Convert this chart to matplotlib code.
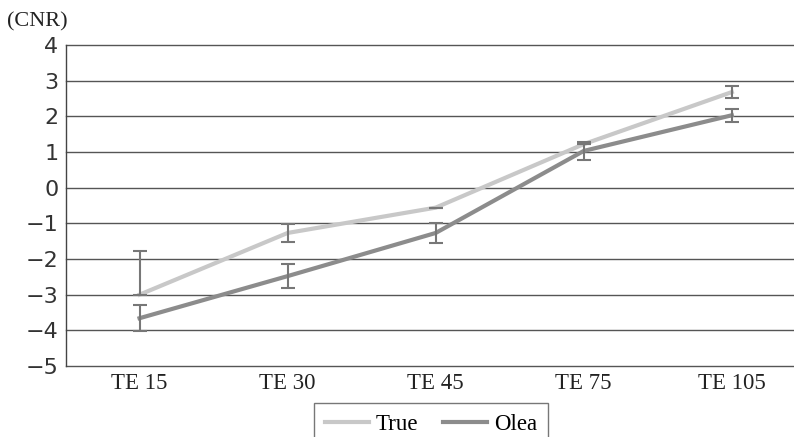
import numpy as np
import matplotlib.pyplot as plt

categories = ["TE 15", "TE 30", "TE 45", "TE 75", "TE 105"]
true_vals = [-3.0, -1.27, -0.56, 1.22, 2.68]
true_err_low = [0.0, 0.24, 0.0, 0.0, 0.16]
true_err_high = [1.23, 0.24, 0.0, 0.0, 0.16]
olea_vals = [-3.66, -2.48, -1.27, 1.03, 2.03]
olea_err = [0.37, 0.34, 0.28, 0.26, 0.18]
y_ticks = [4, 3, 2, 1, 0, -1, -2, -3, -4, -5]

fig = plt.figure(figsize=(7.94, 4.37), dpi=100)
ax = fig.add_axes([65.5 / 794, 1 - 366 / 437, 1 - 65.5 / 794, (366 - 45) / 437])

x = np.arange(len(categories))
ax.plot(x, true_vals, color="#c8c8c8", lw=3, label="True", zorder=3)
ax.plot(x, olea_vals, color="#8c8c8c", lw=3, label="Olea", zorder=3)

ax.errorbar(x, true_vals, yerr=[true_err_low, true_err_high], fmt="none",
            ecolor="#777777", elinewidth=1.5, capsize=5, capthick=1.5, zorder=4)
ax.errorbar(x, olea_vals, yerr=olea_err, fmt="none",
            ecolor="#777777", elinewidth=1.5, capsize=5, capthick=1.5, zorder=4)

ax.set_xlim(-0.5, 4.42)
ax.set_ylim(-5, 4)
ax.set_yticks(y_ticks)
ax.set_yticklabels([str(v).replace("-", "\u2212") for v in y_ticks],
                   fontsize=16, family="DejaVu Sans", color="#333333")
ax.set_xticks(x)
ax.set_xticklabels(categories, fontsize=16.5, family="Liberation Serif", color="#222222")
ax.tick_params(axis="both", length=0, pad=5)
ax.tick_params(axis="y", pad=5)

for v in y_ticks:
    ax.axhline(v, color="#555555", lw=1.0, zorder=1, clip_on=False)

for s in ["top", "right", "bottom"]:
    ax.spines[s].set_visible(False)
ax.spines["left"].set_color("#444444")
ax.spines["left"].set_linewidth(1.0)

fig.text(7 / 794, 1 - 22 / 437, "(CNR)", fontsize=16, family="Liberation Serif",
         va="center", ha="left", color="#222222")

leg = fig.legend(loc="upper center", bbox_to_anchor=(431 / 794, 1 - 403 / 437),
                 ncol=2, frameon=True, fancybox=False, edgecolor="#555555",
                 prop={"family": "Liberation Serif", "size": 16.5},
                 handlelength=1.9, handletextpad=0.3, columnspacing=1.1,
                 borderpad=0.5, borderaxespad=0)
leg.get_frame().set_linewidth(1.0)

fig.savefig("out.png", dpi=100)
